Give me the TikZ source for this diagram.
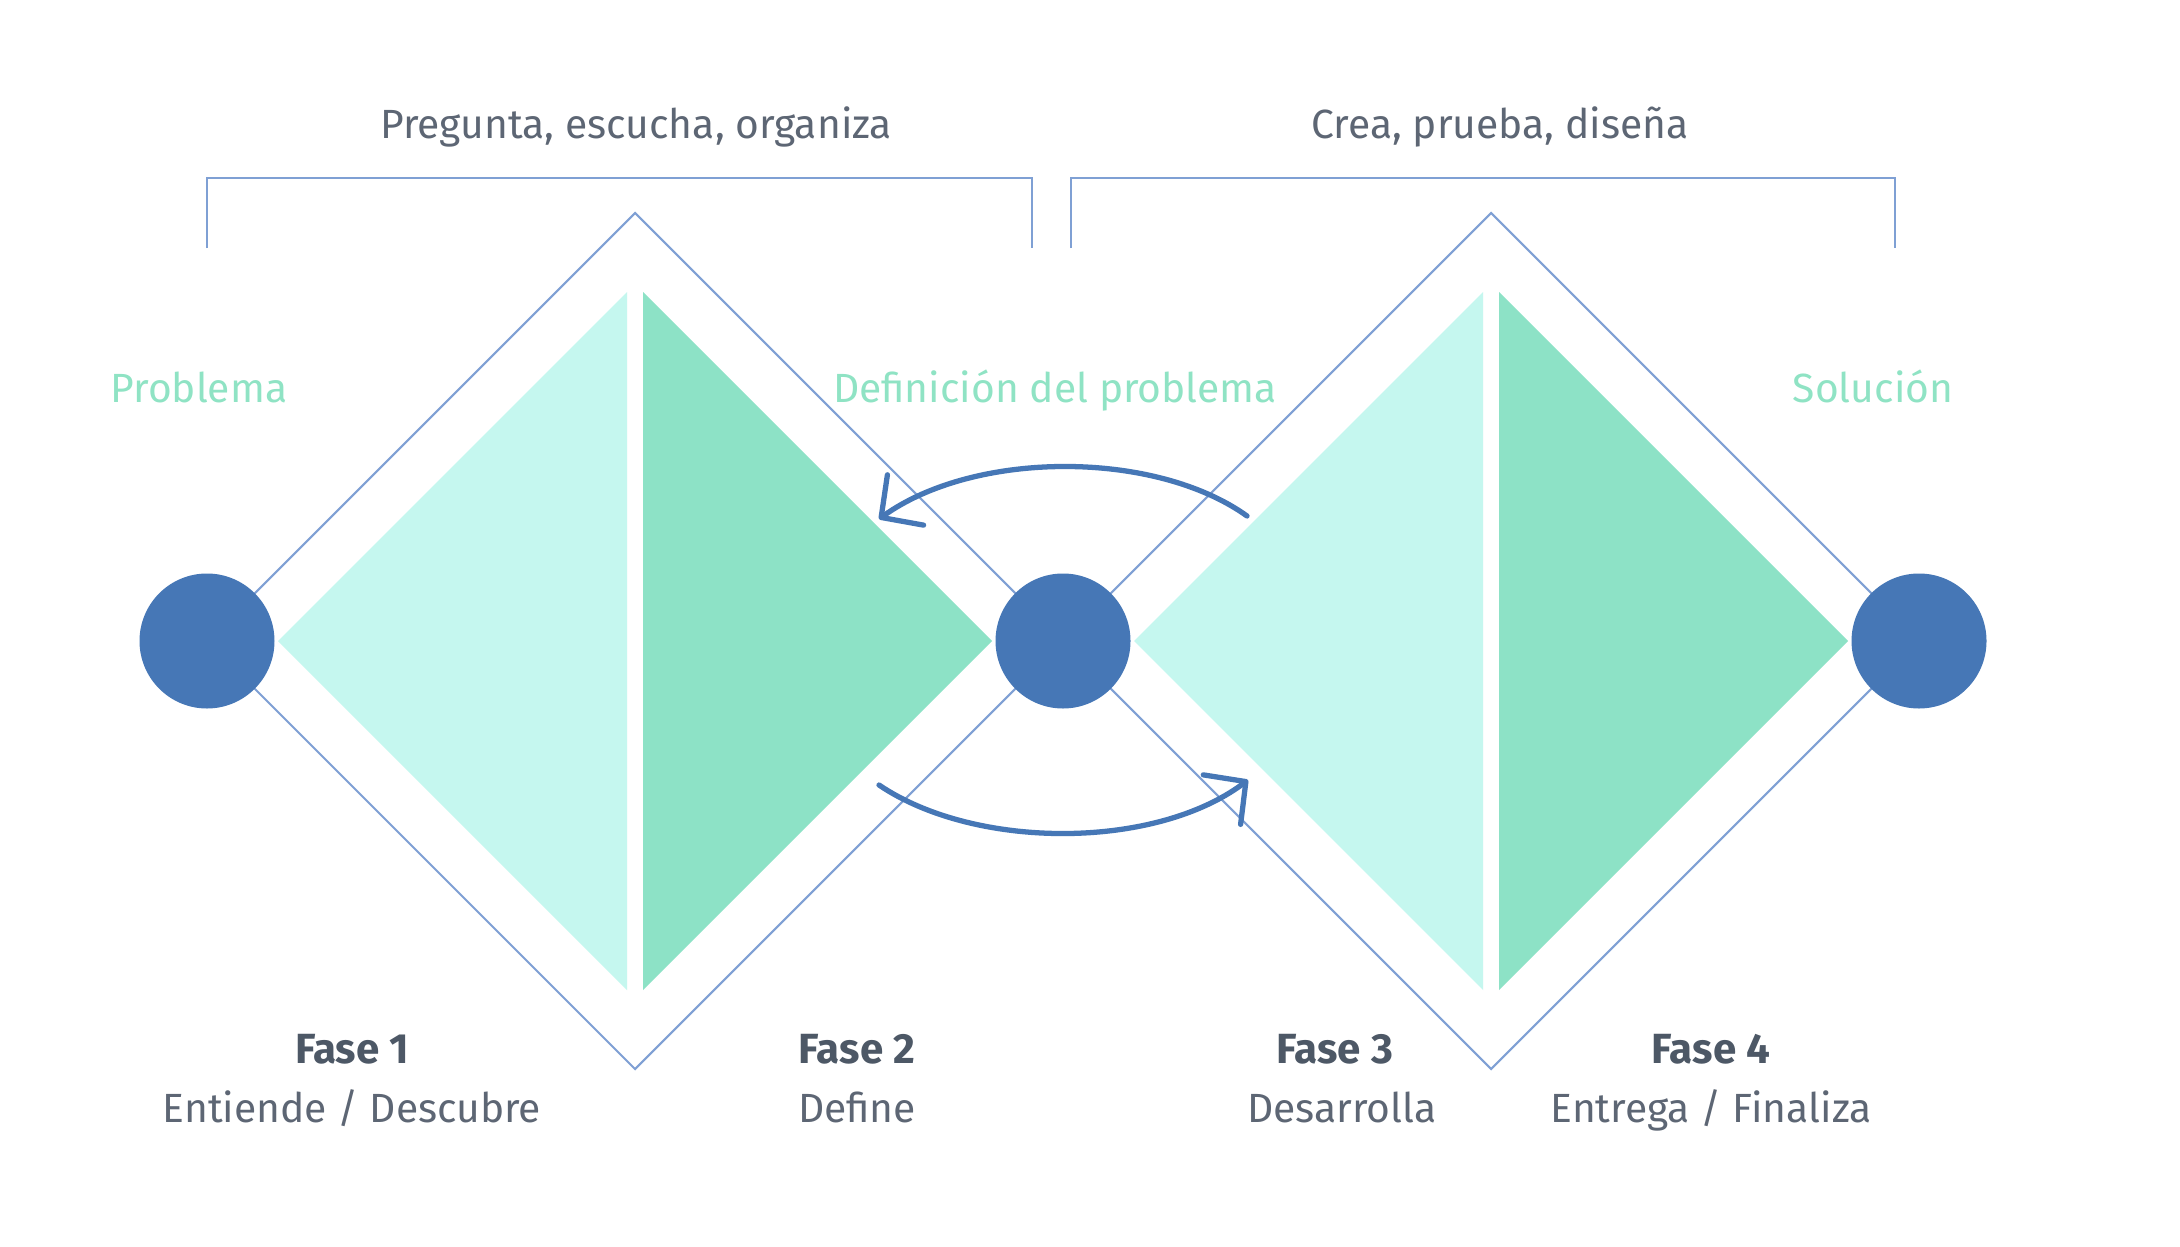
\documentclass[tikz,border=0pt]{standalone}
\usepackage{fontspec}
\setmainfont{Fira Sans}
\usetikzlibrary{arrows.meta}

\definecolor{hubblue}{HTML}{4677B6}
\definecolor{rimblue}{HTML}{7FA0D4}
\definecolor{mintlight}{HTML}{C5F7EF}
\definecolor{mintdark}{HTML}{8DE2C6}
\definecolor{textgrey}{HTML}{5D6674}
\definecolor{phasegrey}{HTML}{4D5866}
\definecolor{stagegreen}{HTML}{8FE3C4}

\tikzset{
  hub/.style={circle, fill=hubblue, minimum size=1.35cm, inner sep=0pt},
  rim/.style={draw=rimblue, line width=0.6pt},
  turnarrow/.style={draw=hubblue, line width=1.5pt, line cap=round,
    -{Straight Barb[length=3mm,width=6.2mm,round]}},
  headtext/.style={text=textgrey, anchor=base,
    font=\fontsize{11.6}{14}\selectfont},
  stagetext/.style={text=stagegreen, anchor=base,
    font=\fontsize{11.6}{14}\selectfont},
  phasetext/.style={text=phasegrey, anchor=base,
    font=\fontsize{12}{14}\selectfont\bfseries},
}

\begin{document}
\begin{tikzpicture}
  \useasboundingbox (0, 0) rectangle (21.8, 12.46);
  \fill[white] (0, 0) rectangle (21.8, 12.46);

  % brackets
  \draw[rim] (2.07, 9.98) -- (2.07, 10.68) -- (10.32, 10.68) -- (10.32, 9.98);
  \draw[rim] (10.71, 9.98) -- (10.71, 10.68) -- (18.95, 10.68) -- (18.95, 9.98);

  % diamond outlines
  \draw[rim] (2.07, 6.05) -- (6.35, 10.33) -- (10.63, 6.05)
    -- (6.35, 1.77) -- cycle;
  \draw[rim] (10.63, 6.05) -- (14.91, 10.33) -- (19.19, 6.05)
    -- (14.91, 1.77) -- cycle;

  % halves
  \fill[mintlight] (6.27, 9.54) -- (2.78, 6.05) -- (6.27, 2.56) -- cycle;
  \fill[mintdark] (6.43, 9.54) -- (9.92, 6.05) -- (6.43, 2.56) -- cycle;
  \fill[mintlight] (14.83, 9.54) -- (11.34, 6.05) -- (14.83, 2.56) -- cycle;
  \fill[mintdark] (14.99, 9.54) -- (18.48, 6.05) -- (14.99, 2.56) -- cycle;

  \node[hub] (problema) at (2.07, 6.05) {};
  \node[hub] (definicion) at (10.63, 6.05) {};
  \node[hub] (solucion) at (19.19, 6.05) {};

  % back and forth
  \coordinate (backstart) at (12.47, 7.30);
  \coordinate (backend) at (8.79, 7.27);
  \coordinate (fwdstart) at (8.79, 4.61);
  \coordinate (fwdend) at (12.48, 4.66);
  \draw[turnarrow] (backstart) .. controls (11.55, 7.96) and (9.75, 7.96)
    .. (backend);
  \draw[turnarrow] (fwdstart) .. controls (9.75, 3.96) and (11.55, 3.96)
    .. (fwdend);

  \node[headtext] (pregunta) at (6.36, 11.07) {Pregunta, escucha, organiza};
  \node[headtext] (crea) at (15.00, 11.07) {Crea, prueba, diseña};

  \node[stagetext] (lblproblema) at (1.99, 8.44) {Problema};
  \node[stagetext] (lbldefinicion) at (10.55, 8.44) {Definición del problema};
  \node[stagetext] (lblsolucion) at (18.73, 8.44) {Solución};

  \node[phasetext] (fase1) at (3.52, 1.83) {Fase 1};
  \node[headtext] (entiende) at (3.52, 1.24) {Entiende / Descubre};
  \node[phasetext] (fase2) at (8.57, 1.83) {Fase 2};
  \node[headtext] (define) at (8.57, 1.24) {Define};
  \node[phasetext] (fase3) at (13.35, 1.83) {Fase 3};
  \node[headtext] (desarrolla) at (13.42, 1.24) {Desarrolla};
  \node[phasetext] (fase4) at (17.11, 1.83) {Fase 4};
  \node[headtext] (entrega) at (17.11, 1.24) {Entrega / Finaliza};
\end{tikzpicture}
\end{document}
